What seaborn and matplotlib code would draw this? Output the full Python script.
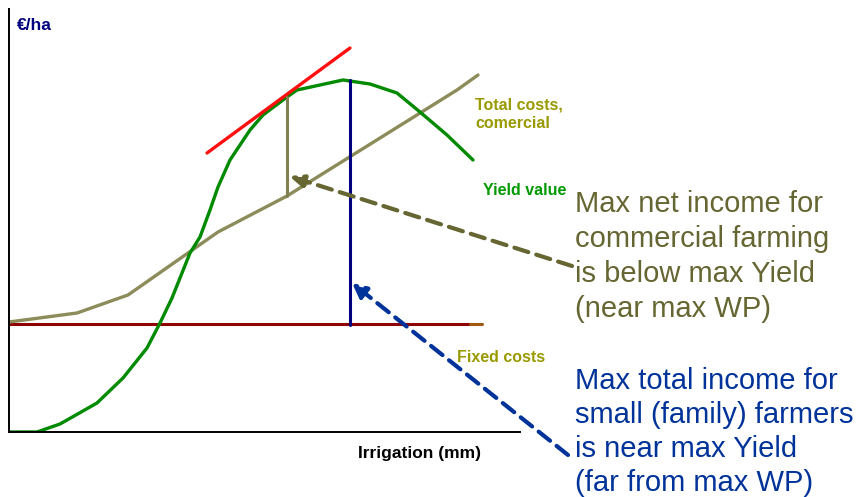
import seaborn as sns
import matplotlib.pyplot as plt

# Curves (x = irrigation, y = EUR/ha, arbitrary units)
yield_x = [0, 28, 51, 88, 114, 138, 151, 163, 181, 191, 201, 209, 221, 241,
           254, 278, 288, 311, 334, 361, 388, 411, 438, 464]
yield_y = [0, 0, 8, 29, 54, 84, 109, 134, 179, 195, 222, 245, 272, 302,
           317, 335, 342, 347, 352, 348, 339, 320, 297, 272]

costs_x = [0, 68, 119, 209, 278, 448, 469]
costs_y = [110, 119, 137, 200, 236, 342, 357]

fixed_x = [0, 461]
fixed_y = [108, 108]
fixed_end_x = [461, 473]

tangent_x = [198, 341]
tangent_y = [279, 384]

net_x = 278          # max net income (tangent point)
net_y = [236, 335]
max_x = 341          # max yield
max_y = [107, 352]

# Labels
small_labels = [("Total costs,", 466, 322, "#999900"),
                ("comercial", 466, 304, "#999900"),
                ("Yield value", 474, 237, "#009900"),
                ("Fixed costs", 448, 70, "#999900")]
net_lines = ["Max net income for", "commercial farming",
             "is below max Yield", "(near max WP)"]
total_lines = ["Max total income for", "small (family) farmers",
               "is near max Yield", "(far from max WP)"]

sns.set_theme(style="white")
plt.rcParams['font.family'] = ['Liberation Sans', 'DejaVu Sans']

fig = plt.figure(figsize=(8.56, 4.97), dpi=100)
ax = fig.add_axes([9 / 856, 65 / 497, 511 / 856, 423 / 497])
ax.set_xlim(0, 511)
ax.set_ylim(0, 423)
ax.set_xticks([])
ax.set_yticks([])
for s in ['top', 'right']:
    ax.spines[s].set_visible(False)
for s in ['left', 'bottom']:
    ax.spines[s].set_color('black')
    ax.spines[s].set_linewidth(1.4)

sns.lineplot(x=fixed_x, y=fixed_y, color="#8f0000", linewidth=2.2, ax=ax)
ax.plot(fixed_end_x, fixed_y, color="#a05a10", linewidth=2.2)
sns.lineplot(x=costs_x, y=costs_y, color="#8c8c5a", linewidth=2.4, ax=ax, sort=False)
sns.lineplot(x=yield_x, y=yield_y, color="#008a00", linewidth=2.4, ax=ax, sort=False)
sns.lineplot(x=tangent_x, y=tangent_y, color="#ff1010", linewidth=2.4, ax=ax)
ax.plot([net_x, net_x], net_y, color="#808050", linewidth=2.2)
ax.plot([max_x, max_x], max_y, color="#000080", linewidth=2.2)

# dashed arrows from the notes on the right
ax.annotate("", xy=(280, 256), xytext=(563, 166), annotation_clip=False,
            arrowprops=dict(arrowstyle="-|>,head_length=0.7,head_width=0.3",
                            color="#666633", lw=3, ls=(0, (3.5, 2)),
                            shrinkA=0, shrinkB=0))
ax.annotate("", xy=(343, 149), xytext=(559, -23), annotation_clip=False,
            arrowprops=dict(arrowstyle="-|>,head_length=0.7,head_width=0.35",
                            color="#003399", lw=3, ls=(0, (3.5, 2)),
                            shrinkA=0, shrinkB=0))

for txt, x, y, c in small_labels:
    ax.text(x, y, txt, color=c, fontsize=11.5, fontweight='bold', va='baseline')

ax.text(8, 402, "€/ha", color="#000080", fontsize=12.5, fontweight='bold', va='baseline')
ax.text(349, -26, "Irrigation (mm)", color="black", fontsize=12.5,
        fontweight='bold', va='baseline')

for i, line in enumerate(net_lines):
    ax.text(566, 220 - 35 * i, line, color="#666633", fontsize=21, va='baseline')
for i, line in enumerate(total_lines):
    ax.text(566, 43 - 34 * i, line, color="#003399", fontsize=21, va='baseline')

fig.savefig("out.png", dpi=100)
